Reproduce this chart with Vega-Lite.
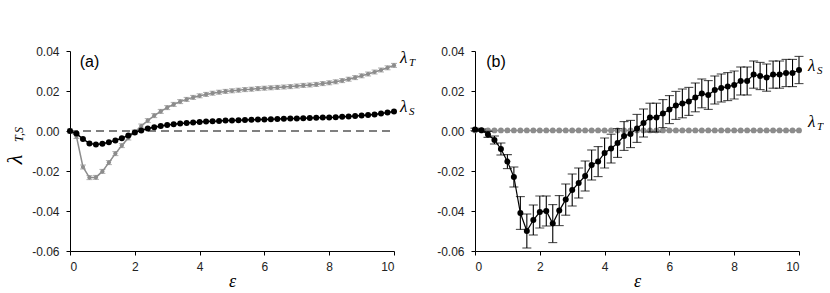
{
  "$schema": "https://vega.github.io/schema/vega-lite/v6.json",
  "padding": {"left": 3, "top": 45, "right": 0, "bottom": 0},
  "background": "white",
  "config": {
    "view": {"stroke": null},
    "axis": {"grid": false, "domainColor": "#000", "tickColor": "#000", "tickSize": 4, "labelPadding": 6,
      "labelFont": "Liberation Sans", "labelFontSize": 12, "labelColor": "#222",
      "titleFont": "Liberation Serif", "titleFontStyle": "italic", "titleFontWeight": "normal", "titleFontSize": 18, "titleColor": "#000", "titlePadding": 0}
  },
  "datasets": {
    "aS": [
      {"x":0,"y":0},{"x":0.2,"y":-0.0013},{"x":0.4,"y":-0.004},{"x":0.6,"y":-0.0062},{"x":0.8,"y":-0.0068},{"x":1,"y":-0.0064},{"x":1.2,"y":-0.0056},{"x":1.4,"y":-0.0047},{"x":1.6,"y":-0.0036},{"x":1.8,"y":-0.0022},{"x":2,"y":-0.0008},{"x":2.2,"y":0.0003},{"x":2.4,"y":0.0012},{"x":2.6,"y":0.0019},{"x":2.8,"y":0.0025},{"x":3,"y":0.003},{"x":3.2,"y":0.0034},{"x":3.4,"y":0.0037},{"x":3.6,"y":0.004},{"x":3.8,"y":0.0043},{"x":4,"y":0.0045},{"x":4.2,"y":0.0047},{"x":4.4,"y":0.0049},{"x":4.6,"y":0.005},{"x":4.8,"y":0.0052},{"x":5,"y":0.0053},{"x":5.2,"y":0.0054},{"x":5.4,"y":0.0055},{"x":5.6,"y":0.0056},{"x":5.8,"y":0.0057},{"x":6,"y":0.0058},{"x":6.2,"y":0.0059},{"x":6.4,"y":0.006},{"x":6.6,"y":0.0061},{"x":6.8,"y":0.0062},{"x":7,"y":0.0063},{"x":7.2,"y":0.0064},{"x":7.4,"y":0.0065},{"x":7.6,"y":0.0066},{"x":7.8,"y":0.0067},{"x":8,"y":0.0068},{"x":8.2,"y":0.0069},{"x":8.4,"y":0.0071},{"x":8.6,"y":0.0073},{"x":8.8,"y":0.0075},{"x":9,"y":0.0077},{"x":9.2,"y":0.008},{"x":9.4,"y":0.0083},{"x":9.6,"y":0.0087},{"x":9.8,"y":0.0092},{"x":10,"y":0.0097}
    ],
    "aT": [
      {"x":0,"y":0,"lo":-0.001,"hi":0.001},{"x":0.2,"y":-0.0028,"lo":-0.0038,"hi":-0.0018},{"x":0.4,"y":-0.018,"lo":-0.019,"hi":-0.017},{"x":0.6,"y":-0.0233,"lo":-0.0243,"hi":-0.0223},{"x":0.8,"y":-0.0232,"lo":-0.0242,"hi":-0.0222},{"x":1,"y":-0.0202,"lo":-0.0212,"hi":-0.0192},{"x":1.2,"y":-0.0158,"lo":-0.0168,"hi":-0.0148},{"x":1.4,"y":-0.0113,"lo":-0.0123,"hi":-0.0103},{"x":1.6,"y":-0.0073,"lo":-0.0083,"hi":-0.0063},{"x":1.8,"y":-0.0035,"lo":-0.0045,"hi":-0.0025},{"x":2,"y":-0.0005,"lo":-0.0015,"hi":0.0005},{"x":2.2,"y":0.0025,"lo":0.0015,"hi":0.0035},{"x":2.4,"y":0.0052,"lo":0.0042,"hi":0.0062},{"x":2.6,"y":0.0077,"lo":0.0067,"hi":0.0087},{"x":2.8,"y":0.0098,"lo":0.0088,"hi":0.0108},{"x":3,"y":0.0117,"lo":0.0107,"hi":0.0127},{"x":3.2,"y":0.0133,"lo":0.0123,"hi":0.0143},{"x":3.4,"y":0.0147,"lo":0.0137,"hi":0.0157},{"x":3.6,"y":0.0158,"lo":0.0148,"hi":0.0168},{"x":3.8,"y":0.0168,"lo":0.0158,"hi":0.0178},{"x":4,"y":0.0176,"lo":0.0166,"hi":0.0186},{"x":4.2,"y":0.0183,"lo":0.0173,"hi":0.0193},{"x":4.4,"y":0.0189,"lo":0.0179,"hi":0.0199},{"x":4.6,"y":0.0194,"lo":0.0184,"hi":0.0204},{"x":4.8,"y":0.0198,"lo":0.0188,"hi":0.0208},{"x":5,"y":0.0201,"lo":0.0191,"hi":0.0211},{"x":5.2,"y":0.0204,"lo":0.0194,"hi":0.0214},{"x":5.4,"y":0.0207,"lo":0.0197,"hi":0.0217},{"x":5.6,"y":0.0209,"lo":0.0199,"hi":0.0219},{"x":5.8,"y":0.0212,"lo":0.0202,"hi":0.0222},{"x":6,"y":0.0214,"lo":0.0204,"hi":0.0224},{"x":6.2,"y":0.0216,"lo":0.0206,"hi":0.0226},{"x":6.4,"y":0.0218,"lo":0.0208,"hi":0.0228},{"x":6.6,"y":0.022,"lo":0.021,"hi":0.023},{"x":6.8,"y":0.0222,"lo":0.0212,"hi":0.0232},{"x":7,"y":0.0225,"lo":0.0215,"hi":0.0235},{"x":7.2,"y":0.0228,"lo":0.0218,"hi":0.0238},{"x":7.4,"y":0.023,"lo":0.022,"hi":0.024},{"x":7.6,"y":0.0233,"lo":0.0223,"hi":0.0243},{"x":7.8,"y":0.0237,"lo":0.0227,"hi":0.0247},{"x":8,"y":0.0241,"lo":0.0231,"hi":0.0251},{"x":8.2,"y":0.0246,"lo":0.0236,"hi":0.0256},{"x":8.4,"y":0.0252,"lo":0.0242,"hi":0.0262},{"x":8.6,"y":0.0259,"lo":0.0249,"hi":0.0269},{"x":8.8,"y":0.0267,"lo":0.0257,"hi":0.0277},{"x":9,"y":0.0276,"lo":0.0266,"hi":0.0286},{"x":9.2,"y":0.0285,"lo":0.0275,"hi":0.0295},{"x":9.4,"y":0.0295,"lo":0.0285,"hi":0.0305},{"x":9.6,"y":0.0305,"lo":0.0295,"hi":0.0315},{"x":9.8,"y":0.0316,"lo":0.0306,"hi":0.0326},{"x":10,"y":0.0328,"lo":0.0318,"hi":0.0338}
    ],
    "bS": [
      {"x":0,"y":0.0008,"lo":0.0002,"hi":0.0014},{"x":0.2,"y":0.0004,"lo":-0.0002,"hi":0.001},{"x":0.4,"y":-0.0017,"lo":-0.0032,"hi":-0.0002},{"x":0.6,"y":-0.0045,"lo":-0.0065,"hi":-0.0025},{"x":0.8,"y":-0.009,"lo":-0.012,"hi":-0.006},{"x":1,"y":-0.0153,"lo":-0.0188,"hi":-0.0118},{"x":1.2,"y":-0.023,"lo":-0.028,"hi":-0.018},{"x":1.4,"y":-0.041,"lo":-0.0492,"hi":-0.0328},{"x":1.6,"y":-0.05,"lo":-0.0585,"hi":-0.0415},{"x":1.8,"y":-0.0445,"lo":-0.052,"hi":-0.037},{"x":2,"y":-0.0405,"lo":-0.0485,"hi":-0.0325},{"x":2.2,"y":-0.04,"lo":-0.0475,"hi":-0.0325},{"x":2.4,"y":-0.0463,"lo":-0.0558,"hi":-0.0368},{"x":2.6,"y":-0.0398,"lo":-0.0473,"hi":-0.0323},{"x":2.8,"y":-0.0343,"lo":-0.0421,"hi":-0.0265},{"x":3,"y":-0.0295,"lo":-0.0375,"hi":-0.0215},{"x":3.2,"y":-0.026,"lo":-0.0335,"hi":-0.0185},{"x":3.4,"y":-0.0225,"lo":-0.03,"hi":-0.015},{"x":3.6,"y":-0.017,"lo":-0.0245,"hi":-0.0095},{"x":3.8,"y":-0.0153,"lo":-0.0228,"hi":-0.0078},{"x":4,"y":-0.011,"lo":-0.0185,"hi":-0.0035},{"x":4.2,"y":-0.0088,"lo":-0.016,"hi":-0.0016},{"x":4.4,"y":-0.006,"lo":-0.0132,"hi":0.0012},{"x":4.6,"y":-0.0025,"lo":-0.0097,"hi":0.0047},{"x":4.8,"y":-0.0015,"lo":-0.0083,"hi":0.0053},{"x":5,"y":0.0013,"lo":-0.0057,"hi":0.0083},{"x":5.2,"y":0.004,"lo":-0.003,"hi":0.011},{"x":5.4,"y":0.0067,"lo":-0.0005,"hi":0.0139},{"x":5.6,"y":0.0067,"lo":-0.0005,"hi":0.0139},{"x":5.8,"y":0.0087,"lo":0.0017,"hi":0.0157},{"x":6,"y":0.0107,"lo":0.0037,"hi":0.0177},{"x":6.2,"y":0.0128,"lo":0.0058,"hi":0.0198},{"x":6.4,"y":0.0138,"lo":0.0066,"hi":0.021},{"x":6.6,"y":0.0148,"lo":0.0078,"hi":0.0218},{"x":6.8,"y":0.0168,"lo":0.0096,"hi":0.024},{"x":7,"y":0.0188,"lo":0.0116,"hi":0.026},{"x":7.2,"y":0.018,"lo":0.0108,"hi":0.0252},{"x":7.4,"y":0.0205,"lo":0.0135,"hi":0.0275},{"x":7.6,"y":0.0215,"lo":0.0145,"hi":0.0285},{"x":7.8,"y":0.0222,"lo":0.0152,"hi":0.0292},{"x":8,"y":0.023,"lo":0.016,"hi":0.03},{"x":8.2,"y":0.025,"lo":0.018,"hi":0.032},{"x":8.4,"y":0.025,"lo":0.018,"hi":0.032},{"x":8.6,"y":0.0282,"lo":0.0214,"hi":0.035},{"x":8.8,"y":0.0275,"lo":0.0207,"hi":0.0343},{"x":9,"y":0.0267,"lo":0.0199,"hi":0.0335},{"x":9.2,"y":0.0282,"lo":0.0214,"hi":0.035},{"x":9.4,"y":0.0282,"lo":0.0214,"hi":0.035},{"x":9.6,"y":0.029,"lo":0.0222,"hi":0.0358},{"x":9.8,"y":0.029,"lo":0.0222,"hi":0.0358},{"x":10,"y":0.0305,"lo":0.0237,"hi":0.0373}
    ],
    "bT": [
      {"x":0,"y":0.0003},{"x":0.2,"y":0.0003},{"x":0.4,"y":0.0003},{"x":0.6,"y":0.0003},{"x":0.8,"y":0.0003},{"x":1,"y":0.0003},{"x":1.2,"y":0.0003},{"x":1.4,"y":0.0003},{"x":1.6,"y":0.0003},{"x":1.8,"y":0.0003},{"x":2,"y":0.0003},{"x":2.2,"y":0.0003},{"x":2.4,"y":0.0003},{"x":2.6,"y":0.0003},{"x":2.8,"y":0.0003},{"x":3,"y":0.0003},{"x":3.2,"y":0.0003},{"x":3.4,"y":0.0003},{"x":3.6,"y":0.0003},{"x":3.8,"y":0.0003},{"x":4,"y":0.0003},{"x":4.2,"y":0.0003},{"x":4.4,"y":0.0003},{"x":4.6,"y":0.0003},{"x":4.8,"y":0.0003},{"x":5,"y":0.0003},{"x":5.2,"y":0.0003},{"x":5.4,"y":0.0003},{"x":5.6,"y":0.0003},{"x":5.8,"y":0.0003},{"x":6,"y":0.0003},{"x":6.2,"y":0.0003},{"x":6.4,"y":0.0003},{"x":6.6,"y":0.0003},{"x":6.8,"y":0.0003},{"x":7,"y":0.0003},{"x":7.2,"y":0.0003},{"x":7.4,"y":0.0003},{"x":7.6,"y":0.0003},{"x":7.8,"y":0.0003},{"x":8,"y":0.0003},{"x":8.2,"y":0.0003},{"x":8.4,"y":0.0003},{"x":8.6,"y":0.0003},{"x":8.8,"y":0.0003},{"x":9,"y":0.0003},{"x":9.2,"y":0.0003},{"x":9.4,"y":0.0003},{"x":9.6,"y":0.0003},{"x":9.8,"y":0.0003},{"x":10,"y":0.0003}
    ],
    "labA": [{"x":10,"y":0.0365,"sub":"T"},{"x":10,"y":0.0118,"sub":"S"}],
    "labB": [{"x":10,"y":0.0325,"sub":"S"},{"x":10,"y":0.0045,"sub":"T"}]
  },
  "hconcat": [
    {
      "width": 324, "height": 200,
      "resolve": {"axis": {"x": "independent", "y": "independent"}},
      "layer": [
        {
          "data": {"name": "aT"},
          "mark": {"type": "errorbar", "color": "#8c8c8c", "thickness": 1, "ticks": {"size": 6, "color": "#8c8c8c"}},
          "encoding": {
            "x": {"field": "x", "type": "quantitative", "scale": {"domain": [0, 10], "nice": false, "padding": 0}, "axis": null},
            "y": {"field": "lo", "type": "quantitative", "scale": {"domain": [-0.06, 0.04], "nice": false, "padding": 0}, "axis": null},
            "y2": {"field": "hi"}
          }
        },
        {
          "data": {"name": "aT"},
          "mark": {"type": "line", "color": "#8c8c8c", "strokeWidth": 1.5, "point": {"filled": true, "opacity": 1, "size": 18, "color": "#8c8c8c"}},
          "encoding": {
            "x": {"field": "x", "type": "quantitative",
              "axis": {"values": [0, 2, 4, 6, 8, 10], "title": "ε"}},
            "y": {"field": "y", "type": "quantitative",
              "axis": {"orient": "left", "values": [-0.06, -0.04, -0.02, 0, 0.02, 0.04], "title": "T,S", "titleFontSize": 12, "titlePadding": 6, "titleY": 83, "labelPadding": 7,
                "labelExpr": "replace(format(datum.value, '.2f'), '\u2212', '-')"}}
          }
        },
        {
          "data": {"values": [{}]},
          "mark": {"type": "rule", "color": "#000", "strokeWidth": 1, "strokeDash": [8, 5]},
          "encoding": {
            "x": {"datum": 0, "type": "quantitative", "axis": null},
            "x2": {"datum": 9.9},
            "y": {"datum": 0, "type": "quantitative", "axis": null}
          }
        },
        {
          "data": {"name": "aS"},
          "mark": {"type": "line", "color": "#000", "strokeWidth": 1.5, "point": {"filled": true, "size": 36, "color": "#000", "opacity": 1}},
          "encoding": {
            "x": {"field": "x", "type": "quantitative", "axis": null},
            "y": {"field": "y", "type": "quantitative",
              "axis": {"orient": "left", "title": "λ", "labels": false, "ticks": false, "domain": false, "titleFontSize": 22, "titlePadding": 44, "titleY": 108}}
          }
        },
        {
          "data": {"name": "labA"},
          "mark": {"type": "text", "text": "λ", "font": "Liberation Serif", "fontStyle": "italic", "fontSize": 17, "align": "left", "baseline": "middle", "dx": 6, "color": "#000"},
          "encoding": {
            "x": {"field": "x", "type": "quantitative", "axis": null},
            "y": {"field": "y", "type": "quantitative", "axis": null}
          }
        },
        {
          "data": {"name": "labA"},
          "mark": {"type": "text", "font": "Liberation Serif", "fontStyle": "italic", "fontSize": 11, "align": "left", "baseline": "middle", "dx": 15, "dy": 5, "color": "#000"},
          "encoding": {
            "x": {"field": "x", "type": "quantitative", "axis": null},
            "y": {"field": "y", "type": "quantitative", "axis": null},
            "text": {"field": "sub"}
          }
        },
        {
          "data": {"values": [{}]},
          "mark": {"type": "text", "text": "(a)", "font": "Liberation Sans", "fontSize": 16, "align": "center", "baseline": "middle", "color": "#000"},
          "encoding": {
            "x": {"datum": 0.6, "type": "quantitative", "axis": null},
            "y": {"datum": 0.0345, "type": "quantitative", "axis": null}
          }
        }
      ]
    },
    {
      "width": 324, "height": 200,
      "resolve": {"axis": {"x": "independent", "y": "independent"}},
      "layer": [
        {
          "data": {"name": "bT"},
          "mark": {"type": "line", "color": "#8c8c8c", "strokeWidth": 1.5, "point": {"filled": true, "size": 34, "color": "#8c8c8c", "opacity": 1}},
          "encoding": {
            "x": {"field": "x", "type": "quantitative", "scale": {"domain": [0, 10], "nice": false, "padding": 0},
              "axis": {"values": [0, 2, 4, 6, 8, 10], "title": "ε"}},
            "y": {"field": "y", "type": "quantitative", "scale": {"domain": [-0.06, 0.04], "nice": false, "padding": 0},
              "axis": {"orient": "left", "values": [-0.06, -0.04, -0.02, 0, 0.02, 0.04], "title": null, "labelPadding": 7,
                "labelExpr": "replace(format(datum.value, '.2f'), '\u2212', '-')"}}
          }
        },
        {
          "data": {"name": "bS"},
          "mark": {"type": "errorbar", "color": "#000", "thickness": 1.1, "ticks": {"size": 9, "color": "#000"}},
          "encoding": {
            "x": {"field": "x", "type": "quantitative", "axis": null},
            "y": {"field": "lo", "type": "quantitative", "axis": null},
            "y2": {"field": "hi"}
          }
        },
        {
          "data": {"name": "bS"},
          "mark": {"type": "line", "color": "#000", "strokeWidth": 1.2, "point": {"filled": true, "size": 36, "color": "#000", "opacity": 1}},
          "encoding": {
            "x": {"field": "x", "type": "quantitative", "axis": null},
            "y": {"field": "y", "type": "quantitative", "axis": null}
          }
        },
        {
          "data": {"name": "labB"},
          "mark": {"type": "text", "text": "λ", "font": "Liberation Serif", "fontStyle": "italic", "fontSize": 17, "align": "left", "baseline": "middle", "dx": 9, "color": "#000"},
          "encoding": {
            "x": {"field": "x", "type": "quantitative", "axis": null},
            "y": {"field": "y", "type": "quantitative", "axis": null}
          }
        },
        {
          "data": {"name": "labB"},
          "mark": {"type": "text", "font": "Liberation Serif", "fontStyle": "italic", "fontSize": 11, "align": "left", "baseline": "middle", "dx": 18, "dy": 5, "color": "#000"},
          "encoding": {
            "x": {"field": "x", "type": "quantitative", "axis": null},
            "y": {"field": "y", "type": "quantitative", "axis": null},
            "text": {"field": "sub"}
          }
        },
        {
          "data": {"values": [{}]},
          "mark": {"type": "text", "text": "(b)", "font": "Liberation Sans", "fontSize": 16, "align": "center", "baseline": "middle", "color": "#000"},
          "encoding": {
            "x": {"datum": 0.65, "type": "quantitative", "axis": null},
            "y": {"datum": 0.0345, "type": "quantitative", "axis": null}
          }
        }
      ]
    }
  ],
  "spacing": 20
}
